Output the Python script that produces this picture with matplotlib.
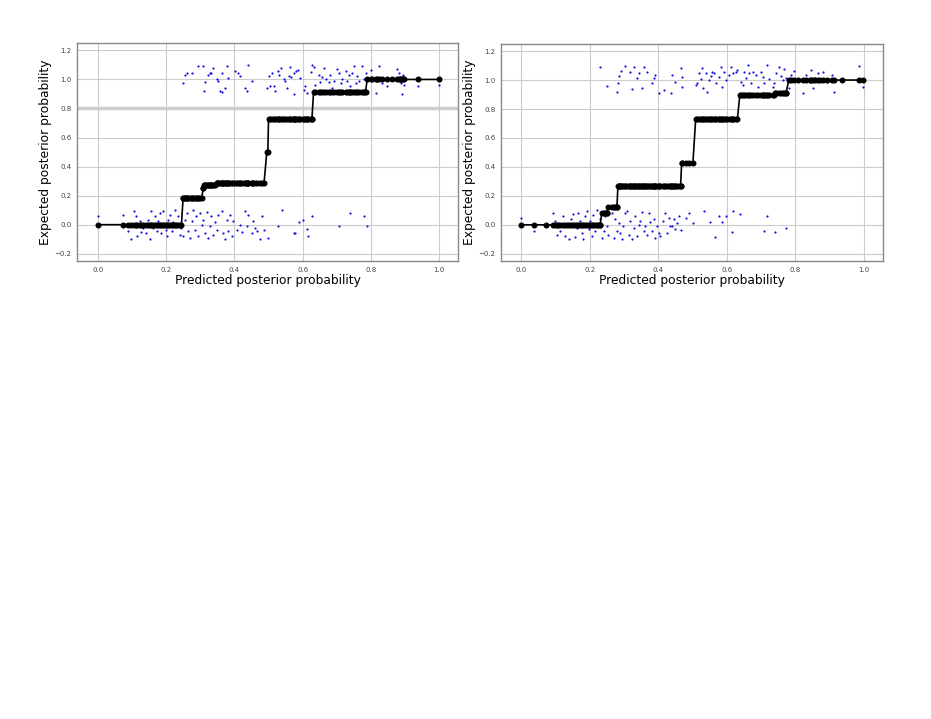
import numpy as np
import matplotlib
matplotlib.use('Agg')
import matplotlib.pyplot as plt

# left panel: predictions of class 0 / class 1 and their jittered labels
neg1_x = [0.0, 0.074, 0.088, 0.098, 0.106, 0.111, 0.115, 0.123, 0.127, 0.132, 0.14, 0.147, 0.152, 0.157,
          0.162, 0.167, 0.172, 0.176, 0.181, 0.186, 0.191, 0.195, 0.199, 0.203, 0.206, 0.211, 0.216, 0.221,
          0.225, 0.23, 0.235, 0.24, 0.245, 0.25, 0.255, 0.26, 0.265, 0.27, 0.275, 0.279, 0.284, 0.289,
          0.294, 0.299, 0.304, 0.309, 0.314, 0.319, 0.324, 0.328, 0.333, 0.338, 0.343, 0.348, 0.353,
          0.363, 0.368, 0.373, 0.377, 0.382, 0.387, 0.392, 0.397, 0.407, 0.417, 0.422, 0.431, 0.436,
          0.441, 0.451, 0.456, 0.461, 0.466, 0.474, 0.48, 0.487, 0.498, 0.539, 0.529, 0.574, 0.578,
          0.588, 0.6, 0.613, 0.616, 0.627, 0.706, 0.74, 0.779, 0.789]
neg1_y = [0.057, 0.07, -0.046, -0.099, 0.092, 0.062, -0.08, 0.023, -0.053, -0.023, -0.057, 0.034, -0.096,
          0.092, -0.023, 0.057, -0.046, 0.023, 0.08, -0.057, 0.096, -0.005, -0.034, -0.08, 0.034, 0.069,
          -0.046, 0.016, 0.099, -0.011, 0.057, -0.069, -0.023, -0.08, 0.034, 0.08, -0.046, -0.092, 0.023,
          0.099, -0.034, 0.057, -0.08, 0.08, 0.0, 0.034, -0.057, 0.085, -0.092, -0.011, 0.062, -0.069,
          0.016, -0.034, 0.069, 0.092, -0.057, -0.099, 0.034, -0.046, 0.069, -0.08, 0.023, -0.034, 0.0,
          -0.053, 0.092, -0.011, 0.069, -0.057, 0.023, -0.023, -0.046, -0.099, 0.062, -0.034, -0.094,
          0.103, -0.007, -0.057, -0.057, 0.016, 0.034, -0.03, -0.08, 0.057, -0.011, 0.08, 0.057, -0.011]
pos1_x = [0.25, 0.255, 0.26, 0.275, 0.294, 0.309, 0.311, 0.314, 0.324, 0.328, 0.333, 0.336, 0.348, 0.353,
          0.358, 0.363, 0.363, 0.373, 0.377, 0.382, 0.402, 0.412, 0.417, 0.431, 0.436, 0.439, 0.451,
          0.495, 0.5, 0.505, 0.51, 0.515, 0.52, 0.527, 0.532, 0.536, 0.544, 0.549, 0.554, 0.559, 0.564,
          0.566, 0.574, 0.576, 0.581, 0.585, 0.591, 0.603, 0.608, 0.613, 0.625, 0.627, 0.632, 0.637,
          0.647, 0.652, 0.657, 0.662, 0.669, 0.676, 0.681, 0.686, 0.691, 0.701, 0.706, 0.711, 0.716,
          0.726, 0.73, 0.735, 0.74, 0.745, 0.75, 0.755, 0.76, 0.765, 0.775, 0.779, 0.784, 0.799, 0.804,
          0.814, 0.819, 0.824, 0.833, 0.848, 0.863, 0.877, 0.882, 0.885, 0.887, 0.892, 0.895, 0.897,
          0.938, 1.0]
pos1_y = [0.976, 1.033, 1.045, 1.045, 1.09, 1.09, 0.918, 0.98, 1.033, 1.045, 1.045, 1.079, 1.0, 0.987,
          0.918, 0.911, 1.045, 0.941, 1.09, 1.01, 1.056, 1.045, 1.026, 0.941, 0.918, 1.097, 0.992, 0.941,
          1.022, 0.957, 1.045, 0.957, 0.918, 1.056, 1.033, 1.079, 1.0, 0.987, 0.941, 1.022, 1.086, 1.017,
          0.902, 1.045, 1.056, 1.067, 1.01, 0.93, 0.953, 0.907, 1.049, 1.102, 1.086, 0.964, 1.033, 0.98,
          1.017, 1.079, 1.003, 0.98, 1.033, 0.941, 0.987, 1.072, 1.045, 0.976, 1.003, 1.056, 0.987, 1.033,
          0.953, 1.045, 1.09, 0.976, 1.022, 0.987, 1.09, 1.0, 1.045, 1.067, 1.01, 0.907, 0.987, 1.09,
          0.976, 0.953, 1.01, 1.072, 1.045, 0.987, 0.976, 0.902, 1.033, 0.964, 0.953, 0.964]
# left panel: isotonic step edges and levels
edges1 = [0.25, 0.305, 0.31, 0.345, 0.495, 0.50, 0.628, 0.787]
levels1 = [0.0, 0.185, 0.25, 0.27, 0.29, 0.5, 0.725, 0.915, 1.0]

# right panel
neg2_x = [0.0, 0.037, 0.073, 0.093, 0.098, 0.103, 0.108, 0.113, 0.122, 0.127, 0.132, 0.139, 0.145, 0.152,
          0.157, 0.161, 0.166, 0.171, 0.176, 0.181, 0.186, 0.191, 0.196, 0.201, 0.206, 0.21, 0.215, 0.22,
          0.225, 0.23, 0.235, 0.24, 0.245, 0.25, 0.254, 0.264, 0.269, 0.274, 0.279, 0.284, 0.289, 0.294,
          0.298, 0.303, 0.308, 0.313, 0.318, 0.323, 0.328, 0.333, 0.338, 0.343, 0.347, 0.352, 0.357,
          0.362, 0.367, 0.372, 0.377, 0.382, 0.387, 0.391, 0.396, 0.401, 0.406, 0.413, 0.419, 0.426,
          0.431, 0.433, 0.44, 0.445, 0.45, 0.455, 0.46, 0.465, 0.48, 0.489, 0.501, 0.533, 0.55, 0.566,
          0.577, 0.585, 0.597, 0.617, 0.615, 0.638, 0.71, 0.716, 0.742, 0.773]
neg2_y = [0.048, -0.044, -0.002, 0.083, 0.025, -0.073, -0.009, -0.044, 0.06, -0.078, 0.002, -0.096, 0.037,
          0.078, -0.085, -0.021, 0.083, 0.025, -0.055, -0.096, 0.064, 0.094, -0.032, 0.025, -0.078, 0.071,
          -0.044, 0.1, -0.009, 0.037, -0.089, -0.044, 0.06, -0.009, -0.067, 0.083, -0.089, 0.037, -0.044,
          0.014, -0.055, -0.096, -0.009, 0.083, 0.094, -0.067, 0.025, -0.096, -0.021, 0.06, -0.078, 0.002,
          0.025, 0.087, -0.044, -0.009, -0.067, 0.083, 0.018, -0.044, 0.037, -0.089, -0.009, -0.055,
          -0.078, 0.025, 0.083, -0.055, 0.048, -0.009, -0.009, 0.037, -0.032, 0.014, 0.06, -0.037, 0.048,
          0.083, 0.014, 0.094, 0.018, -0.085, 0.06, 0.018, 0.06, 0.094, -0.05, 0.078, -0.044, 0.064,
          -0.05, -0.023]
pos2_x = [0.23, 0.25, 0.279, 0.282, 0.286, 0.292, 0.303, 0.318, 0.323, 0.328, 0.338, 0.343, 0.352, 0.357,
          0.367, 0.382, 0.387, 0.391, 0.401, 0.416, 0.436, 0.44, 0.45, 0.465, 0.468, 0.47, 0.509, 0.514,
          0.519, 0.524, 0.528, 0.53, 0.538, 0.543, 0.548, 0.553, 0.558, 0.563, 0.568, 0.576, 0.582,
          0.585, 0.592, 0.597, 0.607, 0.612, 0.617, 0.626, 0.631, 0.642, 0.646, 0.651, 0.656, 0.661,
          0.666, 0.671, 0.676, 0.685, 0.69, 0.699, 0.705, 0.709, 0.717, 0.724, 0.734, 0.739, 0.744,
          0.752, 0.759, 0.764, 0.768, 0.773, 0.781, 0.788, 0.797, 0.807, 0.822, 0.83, 0.842, 0.847,
          0.852, 0.859, 0.866, 0.873, 0.881, 0.893, 0.906, 0.912, 0.935, 0.987, 0.998]
pos2_y = [1.092, 0.959, 0.92, 0.977, 1.028, 1.064, 1.097, 1.058, 0.936, 1.092, 1.012, 1.046, 0.943, 1.087,
          1.058, 0.977, 1.012, 1.035, 0.908, 0.931, 0.913, 1.035, 0.989, 1.081, 0.95, 1.023, 0.966, 0.977,
          1.046, 1.005, 1.081, 0.943, 1.046, 0.92, 1.0, 1.028, 1.058, 1.046, 0.982, 1.023, 1.092, 0.954,
          1.058, 1.0, 1.035, 1.092, 1.046, 1.058, 1.069, 0.989, 0.966, 1.058, 1.012, 1.103, 1.046, 0.982,
          1.058, 1.035, 0.954, 1.058, 1.019, 0.982, 1.103, 1.005, 0.954, 0.977, 1.046, 1.092, 1.028, 1.0,
          1.074, 1.012, 0.943, 1.035, 1.064, 1.0, 0.908, 1.035, 0.989, 1.069, 0.943, 1.012, 1.046, 1.005,
          1.058, 0.989, 1.035, 0.92, 0.996, 1.097, 0.954]
edges2 = [0.232, 0.252, 0.28, 0.466, 0.503, 0.638, 0.742, 0.777]
levels2 = [0.0, 0.085, 0.125, 0.27, 0.43, 0.73, 0.9, 0.91, 1.0]

panels = [
    (neg1_x, neg1_y, pos1_x, pos1_y, edges1, levels1, [0.083, 0.637, 0.409, 0.303]),
    (neg2_x, neg2_y, pos2_x, pos2_y, edges2, levels2, [0.538, 0.637, 0.410, 0.302]),
]

fig = plt.figure(figsize=(9.31, 7.19), dpi=100)

for i, (neg_x, neg_y, pos_x, pos_y, edges, levels, rect) in enumerate(panels):
    ax = fig.add_axes(rect)
    ax.scatter(neg_x + pos_x, neg_y + pos_y, s=2.5, color='#1010e0', linewidths=0, zorder=2)

    # calibration curve evaluated at every prediction
    xs = np.sort(np.array(neg_x + pos_x))
    ys = np.array(levels)[np.searchsorted(edges, xs, side='right')]
    ax.plot(xs, ys, '-o', color='black', lw=1.2, ms=3.3, zorder=3)

    ax.set_xlim(-0.06, 1.055)
    ax.set_ylim(-0.25, 1.25)
    ax.set_xticks([0.0, 0.2, 0.4, 0.6, 0.8, 1.0])
    ax.set_yticks([-0.2, 0.0, 0.2, 0.4, 0.6, 0.8, 1.0, 1.2])
    ax.grid(True, color='#cccccc', lw=0.8)
    if i == 0:
        ax.axhline(0.8, color='#d0d0d0', lw=2.5, zorder=0)
    ax.set_axisbelow(True)
    ax.tick_params(length=0, labelsize=5, colors='#444444', pad=4)
    for sp in ax.spines.values():
        sp.set_color('#888888')
        sp.set_linewidth(1.0)
    ax.set_xlabel('Predicted posterior probability', fontsize=8.8, labelpad=1)
    ax.set_ylabel('Expected posterior probability', fontsize=8.8, labelpad=2)

fig.savefig('out.png', dpi=100)
